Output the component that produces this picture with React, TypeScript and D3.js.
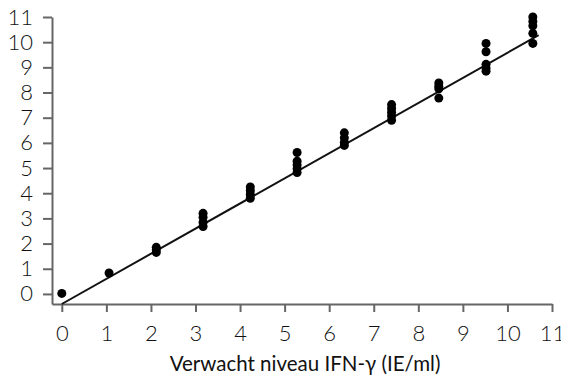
import React from 'react';
import { select, scaleLinear, axisBottom, axisLeft, line, range } from 'd3';

// expected level (x) for each dilution step
const expected: number[] = [0, 1.06, 2.12, 3.17, 4.23, 5.28, 6.34, 7.4, 8.46, 9.52, 10.57];
const measured: number[][] = [
  [0.02],
  [0.83],
  [1.85, 1.75, 1.65],
  [3.2, 3.05, 2.85, 2.68],
  [4.25, 4.1, 3.95, 3.8],
  [5.62, 5.27, 5.12, 4.97, 4.82],
  [6.4, 6.2, 6.02, 5.9],
  [7.52, 7.37, 7.22, 7.07, 6.9],
  [8.38, 8.25, 8.15, 7.78],
  [9.95, 9.62, 9.12, 8.97, 8.85],
  [11.0, 10.82, 10.65, 10.35, 9.95],
];
const xTicks: number[] = range(0, 12);
const yTicks: number[] = range(0, 12);
const fitSlope = 0.998;
const fitIntercept = -0.4;
const fitRange: [number, number] = [0, 10.7];
const xTitle = 'Verwacht niveau IFN-γ (IE/ml)';

const W = 561;
const H = 379;
const FONT = 'Lato, "Open Sans", sans-serif';

export default function App() {
  const svgRef = React.useRef<SVGSVGElement>(null);

  React.useEffect(() => {
    const svg = select(svgRef.current);
    svg.selectAll('*').remove();

    const x = scaleLinear().domain([-0.22, 11]).range([52, 552]);
    const y = scaleLinear().domain([-0.4, 11]).range([304, 17]);
    const axisColor = '#666';

    const gx = svg
      .append('g')
      .attr('transform', `translate(0,${y(-0.4)})`)
      .call(axisBottom(x).tickValues(xTicks).tickSize(8).tickSizeOuter(0).tickPadding(13).tickFormat(d => String(d)) as any);
    gx.select('.domain').attr('stroke', axisColor).attr('stroke-width', 2);
    gx.selectAll('.tick line').attr('stroke', axisColor).attr('stroke-width', 2);
    gx.selectAll('.tick text')
      .attr('fill', '#111')
      .attr('font-family', FONT)
      .attr('font-size', 22)
      .attr('font-weight', 300);

    const gy = svg
      .append('g')
      .attr('transform', `translate(${x(-0.22)},0)`)
      .call(axisLeft(y).tickValues(yTicks).tickSize(9).tickSizeOuter(0).tickPadding(10).tickFormat(d => String(d)) as any);
    gy.select('.domain').attr('stroke', axisColor).attr('stroke-width', 2);
    gy.selectAll('.tick line').attr('stroke', axisColor).attr('stroke-width', 2);
    gy.selectAll('.tick text')
      .attr('fill', '#111')
      .attr('font-family', FONT)
      .attr('font-size', 22)
      .attr('font-weight', 300);

    const fit = line<number>()
      .x(d => x(d))
      .y(d => y(fitIntercept + fitSlope * d));
    svg
      .append('path')
      .datum(fitRange)
      .attr('d', fit)
      .attr('fill', 'none')
      .attr('stroke', '#111')
      .attr('stroke-width', 2);

    const points = expected.flatMap((ex, i) => measured[i].map(v => ({ ex, v })));
    svg
      .append('g')
      .selectAll('circle')
      .data(points)
      .join('circle')
      .attr('cx', d => x(d.ex))
      .attr('cy', d => y(d.v))
      .attr('r', 4.5)
      .attr('fill', '#000');

    svg
      .append('text')
      .attr('x', 305)
      .attr('y', 371)
      .attr('text-anchor', 'middle')
      .attr('font-family', FONT)
      .attr('font-size', 20.5)
      .attr('fill', '#111')
      .text(xTitle);
  }, []);

  return (
    <svg
      ref={svgRef}
      width={W}
      height={H}
      style={{ position: 'absolute', left: 0, top: 0, background: '#fff' }}
    />
  );
}
